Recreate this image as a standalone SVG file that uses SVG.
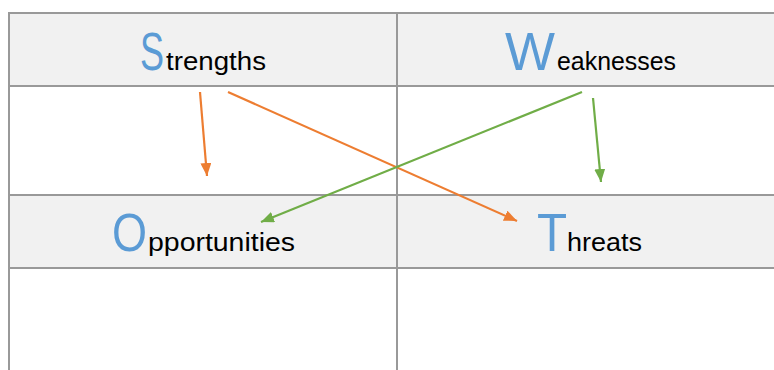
<svg xmlns="http://www.w3.org/2000/svg" width="774" height="370" viewBox="0 0 774 370">
<style>
.hdr{fill:#F1F1F1}
.grid{stroke:#999999;stroke-width:2;fill:none}
.lbl{font-family:"Liberation Sans",Arial,sans-serif}
.big{font-family:"Liberation Sans",Arial,sans-serif;font-size:53px;fill:#5B9BD5}
.small{font-family:"Liberation Sans",Arial,sans-serif;font-size:25px;fill:#000000}
.orange{stroke:#ED7D31;stroke-width:2.2;fill:none}
.green{stroke:#70AD47;stroke-width:2.2;fill:none}
</style>
<defs>
<marker id="ao" viewBox="0 0 13 11" refX="13" refY="5.5" markerWidth="13" markerHeight="11" markerUnits="userSpaceOnUse" orient="auto"><path d="M0,0 L13,5.5 L0,11 z" fill="#ED7D31"/></marker>
<marker id="ag" viewBox="0 0 13 11" refX="13" refY="5.5" markerWidth="13" markerHeight="11" markerUnits="userSpaceOnUse" orient="auto"><path d="M0,0 L13,5.5 L0,11 z" fill="#70AD47"/></marker>
</defs>
<rect x="0" y="0" width="774" height="370" fill="#ffffff"/>
<g id="table">
<rect class="hdr" x="9" y="13" width="770" height="73"/>
<rect class="hdr" x="9" y="195" width="770" height="73"/>
<line class="grid" x1="9" y1="13" x2="774" y2="13"/>
<line class="grid" x1="9" y1="86" x2="774" y2="86"/>
<line class="grid" x1="9" y1="195" x2="774" y2="195"/>
<line class="grid" x1="9" y1="268" x2="774" y2="268"/>
<line class="grid" x1="9" y1="12" x2="9" y2="370"/>
<line class="grid" x1="397" y1="12" x2="397" y2="370"/>
</g>
<g id="strengths">
<text class="big" transform="translate(140,70) scale(0.68,1)">S</text>
<text class="small" x="166" y="70" textLength="100" lengthAdjust="spacingAndGlyphs">trengths</text>
</g>
<g id="weaknesses">
<text class="big" x="505" y="70" textLength="50" lengthAdjust="spacingAndGlyphs">W</text>
<text class="small" x="557" y="70" textLength="119" lengthAdjust="spacingAndGlyphs">eaknesses</text>
</g>
<g id="opportunities">
<text class="big" transform="translate(112,251) scale(0.85,1)">O</text>
<text class="small" x="148" y="251" textLength="147" lengthAdjust="spacingAndGlyphs">pportunities</text>
</g>
<g id="threats">
<text class="big" transform="translate(537,251) scale(0.93,1)">T</text>
<text class="small" x="567" y="251" textLength="75" lengthAdjust="spacingAndGlyphs">hreats</text>
</g>
<g id="connectors">
<line class="orange" x1="200" y1="92" x2="207" y2="176" marker-end="url(#ao)"/>
<line class="orange" x1="228" y1="92" x2="517" y2="221" marker-end="url(#ao)"/>
<line class="green" x1="582" y1="92" x2="261" y2="222" marker-end="url(#ag)"/>
<line class="green" x1="593" y1="98" x2="601" y2="182" marker-end="url(#ag)"/>
</g>
</svg>
